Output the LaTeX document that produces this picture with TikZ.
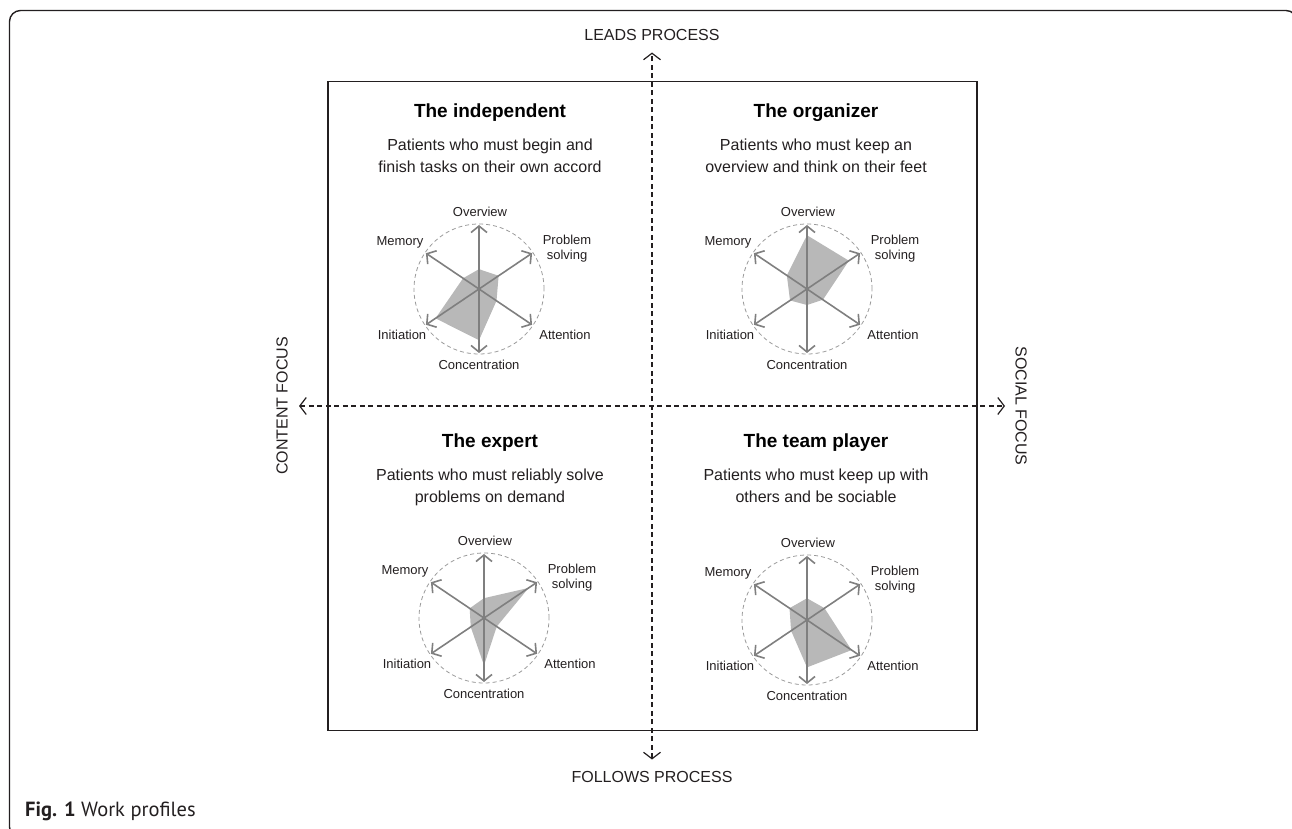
\documentclass[tikz,border=0pt]{standalone}
\usepackage{fontspec}
\setmainfont{Liberation Sans}
\newfontfamily\capfont{PT Sans}
\usetikzlibrary{arrows.meta}

\definecolor{ink}{HTML}{231F20}
\definecolor{spokegray}{HTML}{7F7F7F}
\definecolor{ringgray}{HTML}{9A9A9A}
\definecolor{fillgray}{HTML}{B8B8B8}

\tikzset{
  frame/.style={draw=ink,line width=1.4pt,rounded corners=11pt},
  quadbox/.style={draw=ink,line width=1.2pt},
  focusarrow/.style={draw=ink,line width=1.2pt,dash pattern=on 5pt off 3.5pt,
    {Straight Barb[length=6.5pt,width=17pt]}-{Straight Barb[length=6.5pt,width=17pt]}},
  spoke/.style={draw=spokegray,line width=1.6pt,
    {Straight Barb[length=6.5pt,width=16pt]}-{Straight Barb[length=6.5pt,width=16pt]}},
  ring/.style={draw=ringgray,line width=0.8pt,dash pattern=on 4pt off 3pt},
  profile/.style={fill=fillgray},
  axlabel/.style={text=ink,font=\fontsize{13}{15}\selectfont,inner sep=0pt,align=center},
  focuslabel/.style={text=ink,font=\fontsize{16}{18}\selectfont,inner sep=0pt},
  profiletitle/.style={font=\fontsize{19}{22}\selectfont\bfseries,inner sep=0pt,anchor=base},
  profiletext/.style={text=ink,font=\fontsize{16}{22}\selectfont,inner sep=0pt,
    anchor=base,align=center}
}

% #1 name, #2 centre, #3-#8 overview, problem solving, attention,
% concentration, initiation, memory (fraction of the spoke)
\newcommand{\workchart}[8]{%
  \begin{scope}[shift={#2}]
    \coordinate (#1-c) at (0,0);
    \fill[profile] (90:{#3*64}) -- (34:{#4*64}) -- (-34:{#5*64})
      -- (-90:{#6*64}) -- (-146:{#7*64}) -- (146:{#8*64}) -- cycle;
    \draw[ring] (#1-c) circle (65);
    \foreach \a in {90,34,-34}
      \draw[spoke] ({\a+180}:64) -- (\a:64);
    \node[axlabel] (#1-ov) at (1,77) {Overview};
    \node[axlabel] (#1-ps) at (88,40) {Problem\\solving};
    \node[axlabel] (#1-at) at (86,-46) {Attention};
    \node[axlabel] (#1-co) at (0,-76) {Concentration};
    \node[axlabel] (#1-in) at (-77,-46) {Initiation};
    \node[axlabel] (#1-me) at (-79,47) {Memory};
  \end{scope}}

\begin{document}
\begin{tikzpicture}[x=1pt,y=1pt]
  \useasboundingbox (0,0) rectangle (1292,-829);
  \draw[frame] (9.5,-10.5) rectangle (1297,-838);

  % the four quadrants
  \draw[quadbox] (328,-81.5) rectangle (977,-730.5);
  \coordinate (lead) at (652,-52.5);
  \coordinate (follow) at (652,-759.5);
  \coordinate (content) at (299,-406);
  \coordinate (social) at (1005,-406);
  \draw[focusarrow] (follow) -- (lead);
  \draw[focusarrow] (content) -- (social);
  \node[focuslabel] (leadlbl) at (652,-35) {LEADS PROCESS};
  \node[focuslabel] (followlbl) at (652,-777) {FOLLOWS PROCESS};
  \node[focuslabel,rotate=90] (contentlbl) at (282,-406) {CONTENT FOCUS};
  \node[focuslabel,rotate=-90] (sociallbl) at (1021,-406) {SOCIAL FOCUS};

  % top left (base = last line)
  \node[profiletitle] (indep) at (490,-118) {The independent};
  \node[profiletext] (indeptxt) at (490,-173)
    {Patients who must begin and\\finish tasks on their own accord};
  \workchart{indepchart}{(479,-289)}{0.31}{0.37}{0.33}{0.80}{0.82}{0.30}

  % top right
  \node[profiletitle] (organ) at (816,-118) {The organizer};
  \node[profiletext] (organtxt) at (816,-173)
    {Patients who must keep an\\overview and think on their feet};
  \workchart{organchart}{(807,-289)}{0.84}{0.79}{0.30}{0.25}{0.32}{0.38}

  % bottom left
  \node[profiletitle] (expert) at (490,-447) {The expert};
  \node[profiletext] (experttxt) at (490,-502)
    {Patients who must reliably solve\\problems on demand};
  \workchart{expertchart}{(484,-618)}{0.31}{0.84}{0.24}{0.74}{0.25}{0.27}

  % bottom right
  \node[profiletitle] (team) at (816,-447) {The team player};
  \node[profiletext] (teamtxt) at (816,-502)
    {Patients who must keep up with\\others and be sociable};
  \workchart{teamchart}{(807,-620)}{0.34}{0.33}{0.84}{0.74}{0.30}{0.33}

  % caption
  \node[anchor=base west,inner sep=0pt,text=ink,font=\capfont\fontsize{20.5}{24}\selectfont]
    (caption) at (25,-816) {\textbf{Fig. 1} Work profiles};
\end{tikzpicture}
\end{document}
